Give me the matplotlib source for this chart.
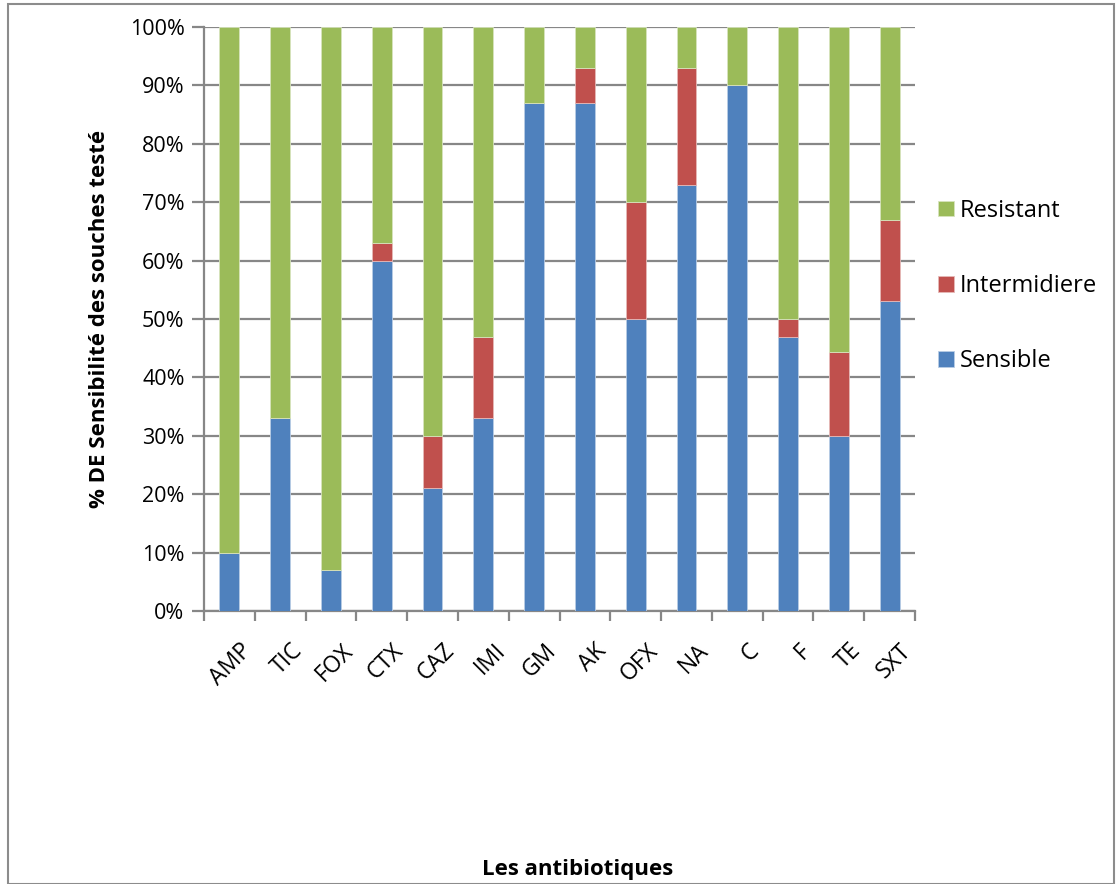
import matplotlib
matplotlib.use("Agg")
import matplotlib.pyplot as plt
import numpy as np
from matplotlib.patches import Rectangle
from matplotlib.ticker import PercentFormatter, FixedLocator

antibiotics = ["AMP", "TIC", "FOX", "CTX", "CAZ", "IMI", "GM", "AK", "OFX", "NA", "C", "F", "TE", "SXT"]
sensible = [10, 33, 7, 60, 21, 33, 87, 87, 50, 73, 90, 47, 30, 53]
intermidiere = [0, 0, 0, 3, 9, 14, 0, 6, 20, 20, 0, 3, 14.4, 14]
resistant = [90, 67, 93, 37, 70, 53, 13, 7, 30, 7, 10, 50, 55.6, 33]

blue, red, green = "#4F81BD", "#C0504D", "#9BBB59"
grid_col = "#878787"

plt.rcParams["font.family"] = ["Open Sans", "DejaVu Sans"]

W, H = 1119, 884
fig = plt.figure(figsize=(W / 100, H / 100), dpi=100)
ax = fig.add_axes([204 / W, 1 - 611 / H, (915 - 204) / W, (611 - 27) / H])

x = np.arange(len(antibiotics))
s = np.array(sensible, dtype=float)
i = np.array(intermidiere, dtype=float)
r = np.array(resistant, dtype=float)
w = 0.39
ax.bar(x, s, w, color=blue, edgecolor="#B9CDE5", linewidth=0.6, label="Sensible", zorder=3)
ax.bar(x, i, w, bottom=s, color=red, edgecolor="#E6B9B8", linewidth=0.6, label="Intermidiere", zorder=3)
ax.bar(x, r, w, bottom=s + i, color=green, edgecolor="#D7E4BD", linewidth=0.6, label="Resistant", zorder=3)

ax.set_xlim(-0.5, len(antibiotics) - 0.5)
ax.set_ylim(0, 100)
ax.yaxis.set_major_locator(FixedLocator(np.arange(0, 101, 10)))
ax.yaxis.set_major_formatter(PercentFormatter(decimals=0))
ax.yaxis.grid(True, color=grid_col, linewidth=1.6, zorder=0)
ax.set_axisbelow(True)

for side in ["top", "right"]:
    ax.spines[side].set_visible(False)
for side in ["left", "bottom"]:
    ax.spines[side].set_color(grid_col)
    ax.spines[side].set_linewidth(1.6)

ax.tick_params(axis="y", direction="out", length=9, width=1.6, color=grid_col,
               labelsize=15.5, pad=5)
ax.set_xticks(x)
ax.set_xticklabels(antibiotics, rotation=45, ha="right", rotation_mode="anchor", fontsize=16.5)
ax.tick_params(axis="x", which="major", length=0, pad=20)
ax.set_xticks(np.arange(-0.5, len(antibiotics), 1.0), minor=True)
ax.tick_params(axis="x", which="minor", direction="out", length=7, width=1.6, color=grid_col)
for lbl in ax.get_xticklabels():
    lbl.set_transform(lbl.get_transform() + matplotlib.transforms.ScaledTranslation(0.1, 0, fig.dpi_scale_trans))

ax.set_ylabel("% DE Sensibilité des souches testé", fontsize=16, fontweight="bold", labelpad=14)
fig.text(578 / W, 1 - 870 / H, "Les antibiotiques", fontsize=16, fontweight="bold",
         ha="center", va="center")

handles, labels = ax.get_legend_handles_labels()
fig.legend(handles[::-1], labels[::-1], loc="center left",
           bbox_to_anchor=(917 / W, 1 - 286 / H), frameon=False, fontsize=17,
           handlelength=0.66, handleheight=0.66, handletextpad=0.25, labelspacing=2.17)

fig.patches.append(Rectangle((8 / W, 0), (1114 - 8) / W, 1 - 4 / H,
                             transform=fig.transFigure, fill=False,
                             edgecolor="#8C8C8C", linewidth=1.5))

fig.savefig("out.png", dpi=100)
